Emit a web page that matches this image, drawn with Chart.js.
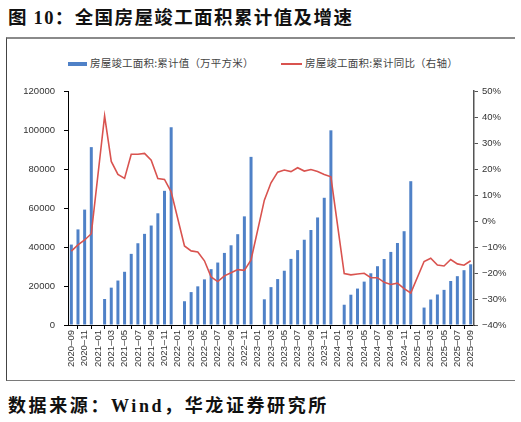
<!DOCTYPE html>
<html lang="zh-CN">
<head>
<meta charset="UTF-8">
<title>全国房屋竣工面积累计值及增速</title>
<script src="https://cdn.jsdelivr.net/npm/chart.js@4.4.1/dist/chart.umd.min.js"></script>
<style>
  html, body { margin: 0; padding: 0; background: #fff; }
  body { width: 521px; height: 422px; position: relative; overflow: hidden; }
  .title {
    position: absolute; left: 8px; top: 3px;
    font: bold 18.5px "Noto Sans CJK SC", sans-serif; color: #111;
    letter-spacing: 1.4px; white-space: nowrap;
  }
  .title .num { font-family: "Liberation Serif", serif; }
  .frame {
    position: absolute; left: 6px; top: 37px; width: 509px; height: 344px;
    border-top: 2px solid #8a8a8a; border-left: 1px solid #444; border-bottom: 1.5px solid #7a7a7a;
    box-sizing: border-box;
  }
  .chartBox { position: absolute; left: 0; top: 37px; width: 521px; height: 345px; }
  .legend { position: absolute; top: 55px; font: 10.5px "Noto Sans CJK SC", sans-serif; color: #444; white-space: nowrap; letter-spacing: 0.2px; }
  .legend i { display: inline-block; vertical-align: middle; margin-right: 3px; }
  .source {
    position: absolute; left: 8px; top: 391px;
    font: bold 18px "Noto Sans CJK SC", sans-serif; color: #111;
    letter-spacing: 2.6px; white-space: nowrap;
  }
  .source .w { font-family: "Liberation Serif", serif; }
</style>
</head>
<body>
<div class="title">图 <span class="num">10</span>：全国房屋竣工面积累计值及增速</div>
<div class="frame"></div>
<div class="legend" style="left:68px"><i style="width:19px;height:4px;background:#4f81c7"></i>房屋竣工面积:累计值（万平方米）</div>
<div class="legend" style="left:281px"><i style="width:21px;height:2px;background:#d9534f"></i>房屋竣工面积:累计同比（右轴）</div>
<div class="chartBox"><canvas id="grafico"></canvas></div>
<div class="source">数据来源：<span class="w">Wind</span>，华龙证券研究所</div>

<script>
  // 月份
  const meses = [
    '2020-09','2020-10','2020-11','2020-12',
    '2021-01','2021-02','2021-03','2021-04','2021-05','2021-06','2021-07','2021-08','2021-09','2021-10','2021-11','2021-12',
    '2022-01','2022-02','2022-03','2022-04','2022-05','2022-06','2022-07','2022-08','2022-09','2022-10','2022-11','2022-12',
    '2023-01','2023-02','2023-03','2023-04','2023-05','2023-06','2023-07','2023-08','2023-09','2023-10','2023-11','2023-12',
    '2024-01','2024-02','2024-03','2024-04','2024-05','2024-06','2024-07','2024-08','2024-09','2024-10','2024-11','2024-12',
    '2025-01','2025-02','2025-03','2025-04','2025-05','2025-06','2025-07','2025-08','2025-09'
  ];

  // 房屋竣工面积:累计值（万平方米）
  const acumulado = [
    41245, 49024, 59173, 91218,
    null, 13344, 19154, 22798, 27289, 36481, 41926, 46739, 51013, 57289, 68804, 101412,
    null, 12184, 16876, 19826, 23400, 28636, 32029, 36965, 40879, 46565, 55709, 86222,
    null, 13178, 19422, 23551, 27826, 33904, 38405, 43726, 48705, 55151, 65237, 99831,
    null, 10395, 15534, 18684, 22245, 26519, 30142, 33861, 37480, 42038, 48096, 73743,
    null, 8939, 13060, 15648, 18019, 22567, 25034, 28106, 31129
  ];

  // 房屋竣工面积:累计同比（%）
  const variacao = [
    -11.6, -9.2, -7.3, -4.9,
    null, 40.4, 22.9, 17.9, 16.4, 25.7, 25.7, 26.0, 23.4, 16.3, 16.0, 11.2,
    null, -9.6, -11.5, -11.9, -15.3, -21.5, -23.3, -21.1, -19.9, -18.7, -19.0, -15.0,
    null, 8.0, 14.7, 18.8, 19.6, 19.0, 20.5, 19.2, 19.8, 19.0, 17.9, 17.0,
    null, -20.2, -20.7, -20.4, -20.1, -21.8, -21.8, -23.6, -24.4, -23.9, -26.0, -27.7,
    null, -15.6, -14.3, -16.9, -17.3, -14.8, -16.5, -17.0, -15.3
  ];

  // 坐标轴刻度
  const ticksEsq = [0, 20000, 40000, 60000, 80000, 100000, 120000];
  const ticksDir = [-40, -30, -20, -10, 0, 10, 20, 30, 40, 50];

  const fonteTick = { family: 'Liberation Sans', size: 9.5 };
  const corTexto = '#333';

  const ctx = document.getElementById('grafico');
  new Chart(ctx, {
    type: 'bar',
    data: {
      labels: meses,
      datasets: [
        {
          type: 'line',
          label: '房屋竣工面积:累计同比（右轴）',
          data: variacao,
          yAxisID: 'yDir',
          borderColor: '#d9534f',
          borderWidth: 1.6,
          pointRadius: 0,
          tension: 0,
          spanGaps: true,
          order: 0
        },
        {
          label: '房屋竣工面积:累计值（万平方米）',
          data: acumulado,
          yAxisID: 'yEsq',
          backgroundColor: '#4f81c7',
          barPercentage: 0.45,
          categoryPercentage: 1,
          order: 1
        }
      ]
    },
    options: {
      responsive: true,
      maintainAspectRatio: false,
      animation: false,
      layout: { padding: { top: 54, left: 0, right: 0, bottom: 0 } },
      plugins: {
        legend: { display: false },
        tooltip: { enabled: false }
      },
      scales: {
        x: {
          offset: true,
          grid: { display: true, drawOnChartArea: false, drawTicks: true, tickLength: 4, offset: true, color: '#000' },
          border: { display: true, color: '#000', width: 1 },
          ticks: {
            autoSkip: false,
            maxRotation: 90,
            minRotation: 90,
            padding: 1,
            color: corTexto,
            font: fonteTick,
            callback: function (v, i) {
              return i % 2 === 0 ? meses[i].replace('-', '–') : null;
            }
          },
          afterFit: function (s) { s.height = 57; }
        },
        yEsq: {
          position: 'left',
          min: 0,
          max: 120000,
          afterBuildTicks: function (s) { s.ticks = ticksEsq.map(v => ({ value: v })); },
          grid: { display: true, drawOnChartArea: false, drawTicks: true, tickLength: 4, color: '#000' },
          border: { display: true, color: '#000', width: 1 },
          ticks: {
            padding: 9,
            color: corTexto,
            font: fonteTick,
            callback: function (v) { return String(v); }
          },
          afterFit: function (s) { s.width = 68; }
        },
        yDir: {
          position: 'right',
          min: -40,
          max: 50,
          afterBuildTicks: function (s) { s.ticks = ticksDir.map(v => ({ value: v })); },
          grid: { display: true, drawOnChartArea: false, drawTicks: true, tickLength: 4, color: '#555' },
          border: { display: true, color: '#555', width: 1.5 },
          ticks: {
            padding: 4,
            color: corTexto,
            font: fonteTick,
            callback: function (v) { return (v < 0 ? '−' + Math.abs(v) : v) + '%'; }
          },
          afterFit: function (s) { s.width = 47; }
        }
      }
    }
  });
</script>
</body>
</html>
